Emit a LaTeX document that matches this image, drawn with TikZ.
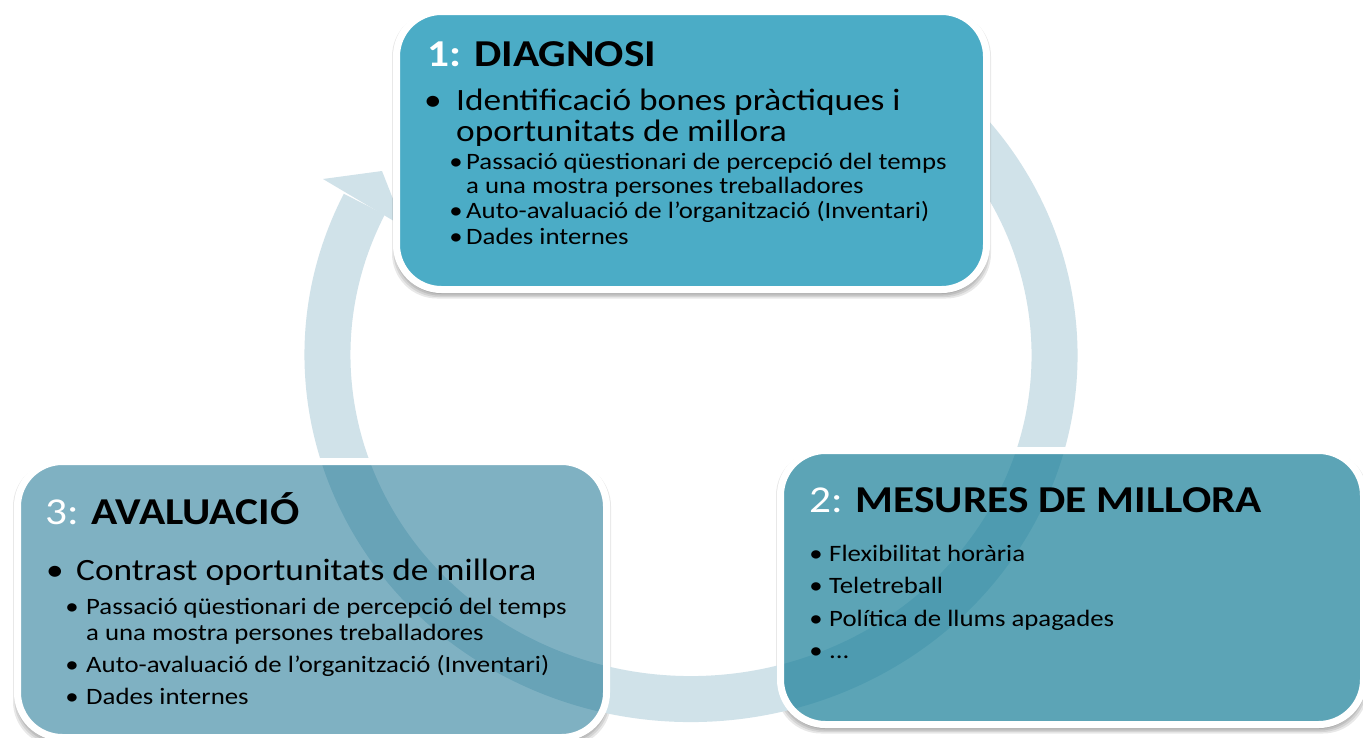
\documentclass[tikz,border=0pt]{standalone}
\usepackage{fontspec}
\setmainfont{Carlito}[FakeStretch=1.14]
\definecolor{ringc}{RGB}{208,226,233}
\definecolor{boxa}{RGB}{75,172,198}
\definecolor{boxb}{RGB}{23,126,152}
\definecolor{boxc}{RGB}{1,101,135}
\begin{document}
\begin{tikzpicture}[x=1pt,y=-1pt,
  ttl/.style={anchor=base west, inner sep=0pt, font=\fontsize{38}{40}\selectfont\bfseries},
  lone/.style={anchor=base west, inner sep=0pt, align=left, font=\fontsize{31}{30.5}\selectfont},
  ltwo/.style={anchor=base west, inner sep=0pt, align=left, font=\fontsize{23.5}{23.5}\selectfont},
  lthree/.style={ltwo, font=\fontsize{23.5}{26}\selectfont},
  bone/.style={anchor=base, inner sep=0pt, font=\fontsize{31}{33}\selectfont},
  btwo/.style={anchor=base, inner sep=0pt, font=\fontsize{23.5}{25}\selectfont},
  shlayer/.style={fill=black, opacity=0.09},
  rim/.style={draw=white, line width=7pt},
]
\useasboundingbox (0,0) rectangle (1363,737);
\fill[white] (0,0) rectangle (1363,737);

% shadows of the two lower boxes
\foreach \e in {0,1.5,3,4.5}{
  \fill[shlayer, rounded corners=45pt] (780.5-\e,455-\e) rectangle (1363.5+\e,729+\e);
  \fill[shlayer, rounded corners=45pt] (17.5-\e,466-\e) rectangle (606.5+\e,742+\e);
}
% clear their interiors
\fill[white, rounded corners=45pt] (780.5,450.5) rectangle (1363.5,724.5);
\fill[white, rounded corners=45pt] (17.5,461.5) rectangle (606.5,737.5);

% cycle arrow
\coordinate (cc) at (691,355);
\coordinate (arcstart) at (872.75,57.1);
\coordinate (arcend) at (364.3,204.2);
\coordinate (barbl) at (323,179);
\coordinate (tip) at (382,171);
\coordinate (barbr) at (404,227);
\draw[ringc, line width=46pt] (arcstart) arc[start angle=-60, end angle=206, x radius=363.5, y radius=344];
\fill[ringc] (barbl) -- (tip) -- (barbr) -- cycle;

% box 2 and box 3
\fill[boxb, fill opacity=0.7, rounded corners=45pt] (780.5,450.5) rectangle (1363.5,724.5);
\draw[rim, rounded corners=45pt] (780.5,450.5) rectangle (1363.5,724.5);
\fill[boxc, fill opacity=0.5, rounded corners=45pt] (17.5,461.5) rectangle (606.5,737.5);
\draw[rim, rounded corners=45pt] (17.5,461.5) rectangle (606.5,737.5);

% box 1
\foreach \e in {0,1.5,3,4.5}{
  \fill[shlayer, rounded corners=45pt] (396.5-\e,16-\e) rectangle (986.5+\e,294+\e);
}
\fill[boxa, rounded corners=45pt] (396.5,11.5) rectangle (986.5,289.5);
\draw[rim, rounded corners=45pt] (396.5,11.5) rectangle (986.5,289.5);

% box 1 text (multi-line nodes are placed by the baseline of their last line)
\node[ttl] (d-title) at (427,66) {\textcolor{white}{1:} DIAGNOSI};
\node[bone] (d-b1) at (433,110.5) {•};
\node[lone] (d-l1) at (456,141) {Identificació bones pràctiques i\\oportunitats de millora};
\node[btwo] (d-b2) at (456,169.5) {•};
\node[ltwo] (d-s1) at (466,193) {Passació qüestionari de percepció del temps\\a una mostra persones treballadores};
\node[btwo] (d-b3) at (456,218) {•};
\node[ltwo] (d-s2) at (466,218) {Auto-avaluació de l’organització (Inventari)};
\node[btwo] (d-b4) at (456,244) {•};
\node[ltwo] (d-s3) at (466,244) {Dades internes};

% box 2 text
\node[ttl] (m-title) at (809,512) {\textcolor{white}{\mdseries 2:} MESURES DE MILLORA};
\node[btwo] (m-b1) at (816,561) {•};
\node[ltwo] (m-s1) at (829,561) {Flexibilitat horària};
\node[btwo] (m-b2) at (816,593) {•};
\node[ltwo] (m-s2) at (829,593) {Teletreball};
\node[btwo] (m-b3) at (816,626) {•};
\node[ltwo] (m-s3) at (829,626) {Política de llums apagades};
\node[btwo] (m-b4) at (816,658) {•};
\node[ltwo] (m-s4) at (829,658) {...};

% box 3 text
\node[ttl] (a-title) at (45,524) {\textcolor{white}{\mdseries 3:} AVALUACIÓ};
\node[bone] (a-b1) at (55,580) {•};
\node[lone] (a-l1) at (76,580) {Contrast oportunitats de millora};
\node[btwo] (a-b2) at (72,614) {•};
\node[lthree] (a-s1) at (86,640) {Passació qüestionari de percepció del temps\\a una mostra persones treballadores};
\node[btwo] (a-b3) at (72,672) {•};
\node[ltwo] (a-s2) at (86,672) {Auto-avaluació de l’organització (Inventari)};
\node[btwo] (a-b4) at (72,704) {•};
\node[ltwo] (a-s3) at (86,704) {Dades internes};
\end{tikzpicture}
\end{document}
